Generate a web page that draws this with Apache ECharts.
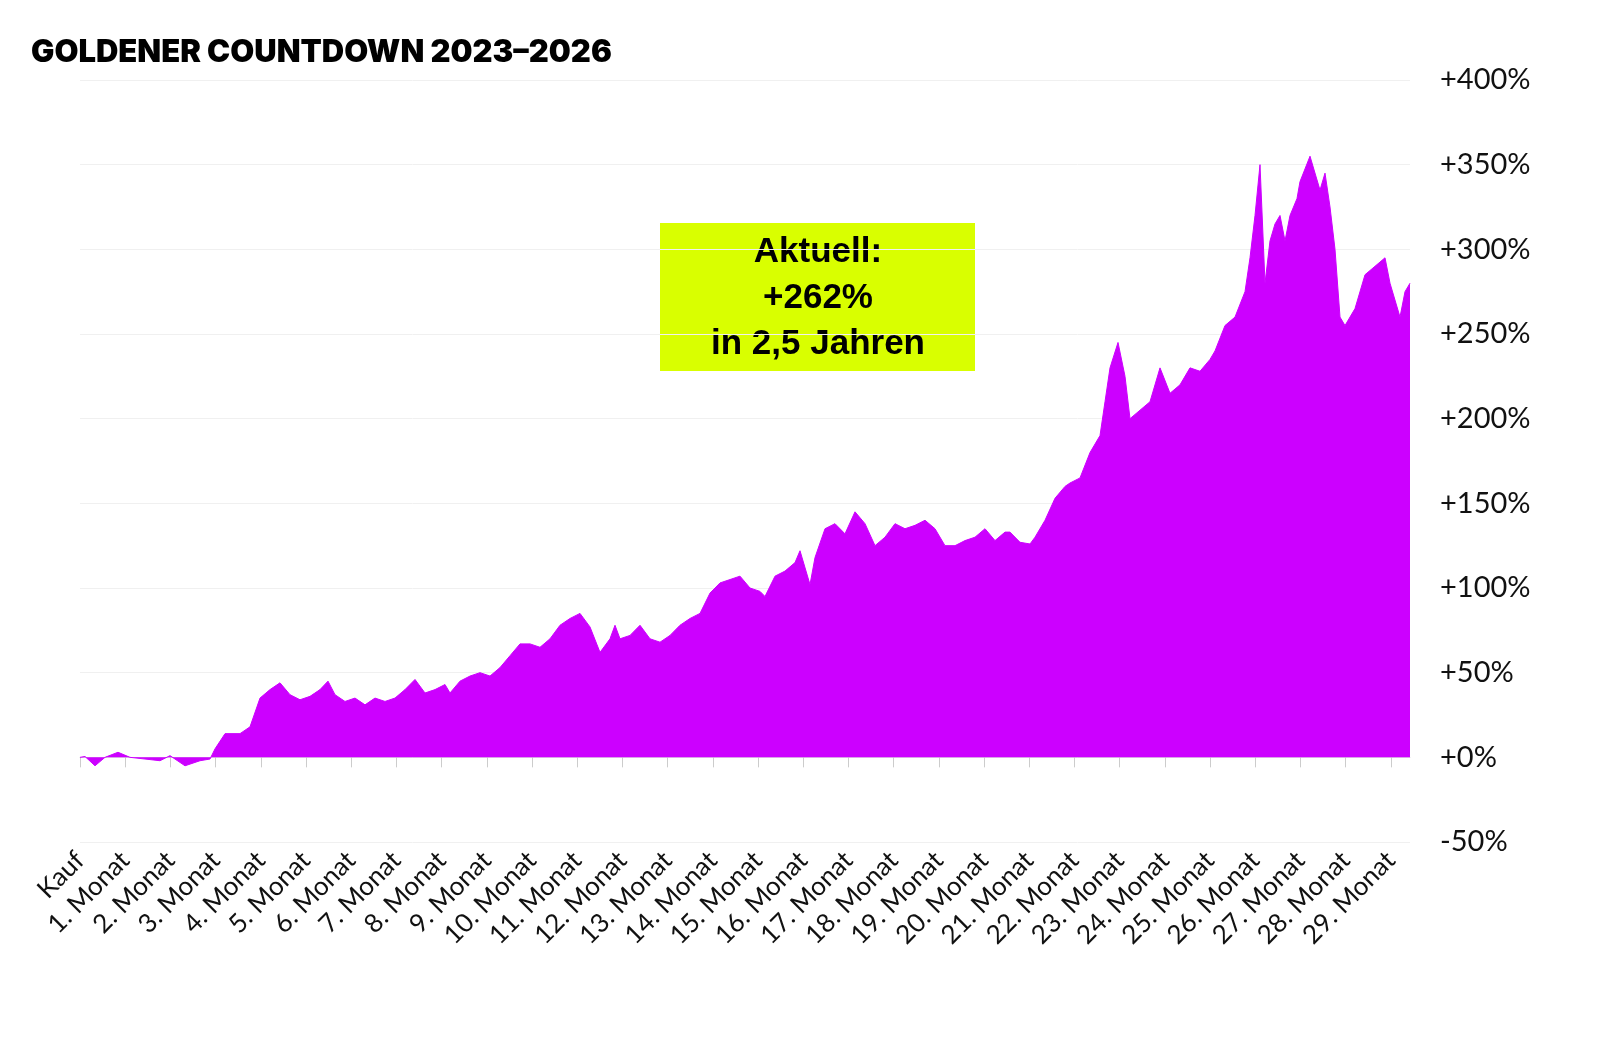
<!DOCTYPE html>
<html><head><meta charset="utf-8">
<script src="https://cdn.jsdelivr.net/npm/echarts@6/dist/echarts.min.js"></script>
<style>html,body{margin:0;background:#fff}#c{width:1600px;height:1048px}</style>
</head><body><div id="c"></div>
<script>
// time index t (1 month = 45.2 units), value = % gain
const monthLabels = ['Kauf'].concat(Array.from({length:29},(_,i)=>(i+1)+'. Monat'));
const tIdx = [0,5,15,25,38,50,65,80,90,105,120,130,135,145,160,170,180,190,200,210,220,230,240,248,255,265,275,285,295,305,315,325,335,345,355,365,370,380,390,400,410,420,430,440,450,460,470,480,490,500,510,520,530,535,540,550,560,570,580,590,600,610,620,630,640,650,660,670,680,685,695,705,715,720,730,735,745,755,765,765,775,785,795,805,815,825,835,845,855,865,875,885,895,905,915,925,930,940,950,955,965,975,985,990,1000,1010,1020,1025,1030,1038,1045,1050,1060,1070,1080,1090,1100,1110,1120,1130,1135,1145,1155,1165,1170,1175,1180,1185,1190,1195,1200,1205,1210,1217,1220,1230,1240,1245,1250,1255,1260,1265,1275,1285,1295,1305,1310,1320,1325,1330];
const values = [0,0.5,-5,0,3,0,-1,-2,1,-5,-2,-1,5,14,14,18,35,40,44,37,34,36,40,45,37,33,35,31,35,33,35,40,46,38,40,43,38,45,48,50,48,53,60,67,67,65,70,78,82,85,77,62,70,78,70,72,78,70,68,72,78,82,85,97,103,105,107,100,98,95,107,110,115,122,102,118,135,138,132,132,145,138,125,130,138,135,137,140,135,125,125,128,130,135,128,133,133,127,126,130,140,153,160,162,165,180,190,210,230,245,225,200,205,210,230,215,220,230,228,235,240,255,260,275,295,320,350,280,305,315,320,305,320,330,340,355,335,345,325,300,260,255,265,285,290,295,280,260,275,280,278,262];
const yTicks = [-50,0,50,100,150,200,250,300,350,400];
const titleText = 'GOLDENER COUNTDOWN 2023–2026';
const boxLines = ['Aktuell:','+262%','in 2,5 Jahren'];

const data = tIdx.map((t,i)=>[t,values[i]]);
const chart = echarts.init(document.getElementById('c'));
chart.setOption({
  animation:false,
  title:{text:titleText,left:26,top:32,textStyle:{fontFamily:'Inter',fontWeight:900,fontSize:31,color:'#000'}},
  grid:{left:80,right:190,top:80,bottom:206},
  xAxis:{type:'value',min:0,max:1330,interval:45.2,
    axisLine:{onZero:true,lineStyle:{color:'#ddd'}},
    axisTick:{show:true,length:10,lineStyle:{color:'#ccc'}},
    splitLine:{show:false},
    axisLabel:{rotate:45,margin:14,fontSize:26,fontFamily:'Lato',color:'#111',showMaxLabel:false,
      formatter:v=>monthLabels[Math.round(v/45.2)]||''}},
  yAxis:{type:'value',position:'right',min:-50,max:400,interval:50,
    axisLine:{show:false},axisTick:{show:false},
    splitLine:{lineStyle:{color:'#f0f0f0'}},
    axisLabel:{fontSize:29,fontFamily:'Lato',color:'#111',margin:30,
      formatter:v=>(v>=0?'+':'')+v+'%'}},
  series:[{type:'line',data:data,showSymbol:false,smooth:false,
    lineStyle:{width:1,color:'#CC00FF'},areaStyle:{color:'#CC00FF',opacity:1}}],
  graphic:[{type:'rect',shape:{x:660,y:223,width:315,height:148},style:{fill:'#D9FF00'}},
    {type:'text',style:{text:boxLines.join('\n'),x:818,y:298,align:'center',verticalAlign:'middle',
      font:'bold 35px "Liberation Sans", Arial',lineHeight:46,fill:'#000'}}]
});
</script></body></html>
